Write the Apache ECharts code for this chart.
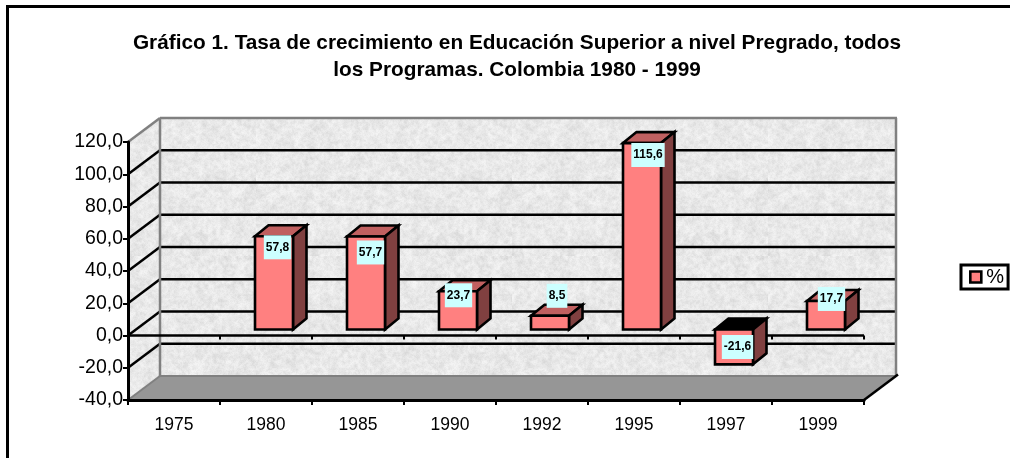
<!DOCTYPE html>
<html>
<head>
<meta charset="utf-8">
<style>html,body{margin:0;padding:0;background:#fff}#c{width:1010px;height:458px}</style>
<script src="https://cdn.jsdelivr.net/npm/echarts@6/dist/echarts.min.js"></script>
</head>
<body>
<div id="c"></div>
<script>
var titleText = 'Gráfico 1. Tasa de crecimiento en Educación Superior a nivel Pregrado, todos\nlos Programas. Colombia 1980 - 1999';
var seriesName = '%';
var categories = ['1975','1980','1985','1990','1992','1995','1997','1999'];
var values = [null, 57.8, 57.7, 23.7, 8.5, 115.6, -21.6, 17.7];
var axisMin = -40, axisMax = 120, axisStep = 20;
var labelNudgeX = [0, 3.5, 4.5, 0.5, 7, 6, 3.5, 5.5];
var labelNudgeY = [0, 11, 16, 4, -20, 12, 17.5, -2];

var DX = 32, DY = -24;
function comma(v){ return v.toFixed(1).replace('.', ','); }

function makeTexture(){
  var size = 256, cv = document.createElement('canvas');
  cv.width = cv.height = size;
  var ctx = cv.getContext('2d');
  ctx.fillStyle = '#ededed'; ctx.fillRect(0,0,size,size);
  var s = 12345;
  function rnd(){ s = (s*1664525 + 1013904223) % 4294967296; return s/4294967296; }
  [[32,0.30],[64,0.35],[128,0.30],[256,0.12]].forEach(function(l){
    var n = l[0], t = document.createElement('canvas'); t.width = t.height = n;
    var c = t.getContext('2d'), d = c.createImageData(n,n);
    for (var i=0;i<n*n;i++){
      var g = rnd();
      var v = g < 0.4 ? 200 + g*50 : 238 + (g-0.4)*28;
      d.data[i*4]=d.data[i*4+1]=d.data[i*4+2]=v; d.data[i*4+3]=255;
    }
    c.putImageData(d,0,0);
    ctx.globalAlpha = l[1]; ctx.imageSmoothingEnabled = true;
    ctx.drawImage(t,0,0,size,size);
  });
  ctx.globalAlpha = 1;
  return cv;
}
var texture = makeTexture();

function poly(points, fill, stroke, width, z){
  return {type:'polygon', z2:z||0, shape:{points:points}, style:{fill:fill, stroke:stroke||null, lineWidth:width||0, lineJoin:'miter'}};
}
function seg(x1,y1,x2,y2,stroke,width,z){
  return {type:'line', z2:z||0, shape:{x1:x1,y1:y1,x2:x2,y2:y2}, style:{stroke:stroke, lineWidth:width, lineCap:'butt'}};
}

function renderFrame(params, api){
  var band = api.size([1,0])[0];
  var x0 = api.coord([0,0])[0] - band/2;
  var x1 = x0 + band*categories.length;
  var yB = api.coord([0,axisMin])[1], yT = api.coord([0,axisMax])[1], yZ = api.coord([0,0])[1];
  var pat = {image:texture, repeat:'repeat'};
  var kids = [];
  kids.push(poly([[x0+DX,yT+DY],[x1+DX,yT+DY],[x1+DX,yB+DY],[x0+DX,yB+DY]], pat));
  kids.push(poly([[x0,yT],[x0+DX,yT+DY],[x0+DX,yB+DY],[x0,yB]], pat));
  kids.push(poly([[x0,yB],[x0+DX,yB+DY],[x1+DX,yB+DY],[x1,yB]], '#969696'));
  for (var v = axisMin+axisStep; v < axisMax; v += axisStep){
    var y = api.coord([0,v])[1];
    kids.push(seg(x0,y,x0+DX,y+DY,'#000',2.5,1));
    kids.push(seg(x0+DX,y+DY,x1+DX,y+DY,'#000',2.5,1));
  }
  var gr = '#808080';
  kids.push(seg(x0+DX,yT+DY,x1+DX+1,yT+DY,gr,2.5,2));
  kids.push(seg(x1+DX,yT+DY,x1+DX,yB+DY,gr,2.5,2));
  kids.push(seg(x0+DX,yT+DY,x0+DX,yB+DY,gr,2.5,2));
  kids.push(seg(x0+DX,yB+DY,x1+DX,yB+DY,gr,2,2));
  kids.push(seg(x0,yT,x0+DX,yT+DY,gr,2.5,2));
  kids.push(seg(x0,yB,x0+DX,yB+DY,gr,2,2));
  kids.push(seg(x1,yB,x1+DX+2,yB+DY-1.5,'#000',2.5,3));
  kids.push(seg(x0,yZ,x1,yZ,'#000',2.5,3));
  for (var i=1;i<=categories.length;i++){
    kids.push(seg(x0+band*i,yZ,x0+band*i,yZ+4,'#000',2,3));
  }
  return {type:'group', children:kids};
}

function renderBar(params, api){
  var i = api.value(0), v = api.value(1);
  if (isNaN(v)) return null;
  var band = api.size([1,0])[0];
  var w = band*0.413;
  var frontX = 8, frontY = -6, dX = 13.5, dY = -11;
  var cx = api.coord([i,0])[0] + frontX;
  var y0 = api.coord([i,0])[1] + frontY;
  var yv = api.coord([i,v])[1] + frontY;
  var top = Math.min(y0,yv), bot = Math.max(y0,yv);
  var L = cx-w/2, R = cx+w/2;
  var st = '#000', lw = 2.6;
  var kids = [
    poly([[L,top],[L+dX,top+dY],[R+dX,top+dY],[R,top]], v<0 ? '#000' : '#C06060', st, lw, 1),
    poly([[R,top],[R+dX,top+dY],[R+dX,bot+dY],[R,bot]], '#804040', st, lw, 2),
    poly([[L,top],[R,top],[R,bot],[L,bot]], '#FF8080', st, lw, 3),
    {type:'text', z2:5, style:{
      x: cx + labelNudgeX[i], y: (v<0 ? top : yv) + labelNudgeY[i],
      text: comma(v), fill:'#000', font:'bold 12px "Liberation Sans"',
      align:'center', verticalAlign:'middle',
      backgroundColor:'#CCFFFF', padding:[6,2,6,2]
    }}
  ];
  return {type:'group', children:kids};
}

var chart = echarts.init(document.getElementById('c'), null, {renderer:'canvas'});
chart.setOption({
  animation:false,
  backgroundColor:'#fff',
  title:{
    text:titleText, left:517, top:30, textAlign:'center', padding:0,
    textStyle:{fontFamily:'Liberation Sans', fontWeight:'bold', fontSize:20.8, lineHeight:27, color:'#000'}
  },
  legend:{
    left:961, top:265, padding:[2,4,2,8], itemGap:0, itemWidth:11, itemHeight:11,
    borderColor:'#000', borderWidth:3, backgroundColor:'#fff',
    textStyle:{fontFamily:'Liberation Sans', fontSize:20, color:'#000', padding:[3,0,0,0]},
    data:[{name:seriesName, icon:'rect', itemStyle:{color:'#FF8080', borderColor:'#000', borderWidth:2.6}}]
  },
  grid:{left:128, top:142, width:736, height:258, containLabel:false},
  xAxis:{
    type:'category', data:categories, z:10,
    axisLine:{onZero:false, lineStyle:{color:'#000', width:3}},
    axisTick:{show:true, length:5, alignWithLabel:false, lineStyle:{color:'#000', width:2}},
    axisLabel:{fontFamily:'Liberation Sans', fontSize:17.5, color:'#000', margin:16},
    splitLine:{show:false}
  },
  yAxis:{
    type:'value', min:axisMin, max:axisMax, interval:axisStep, z:10,
    axisLine:{show:true, lineStyle:{color:'#000', width:3}},
    axisTick:{show:true, length:5, lineStyle:{color:'#000', width:2}},
    axisLabel:{fontFamily:'Liberation Sans', fontSize:19.5, color:'#000', margin:5, padding:[6,0,0,0], formatter:comma},
    splitLine:{show:false}
  },
  graphic:[
    {type:'rect', shape:{x:6,y:5,width:1004,height:3}, style:{fill:'#000'}},
    {type:'rect', shape:{x:6,y:5,width:3,height:453}, style:{fill:'#000'}}
  ],
  series:[
    {type:'custom', silent:true, z:1, clip:false, renderItem:renderFrame, data:[[0,0]], encode:{x:0,y:1}},
    {type:'custom', name:seriesName, silent:true, z:3, clip:false, renderItem:renderBar,
     data:values.map(function(v,i){return [i,v];}), encode:{x:0,y:1},
     itemStyle:{color:'#FF8080'}}
  ]
});
</script>
</body>
</html>
